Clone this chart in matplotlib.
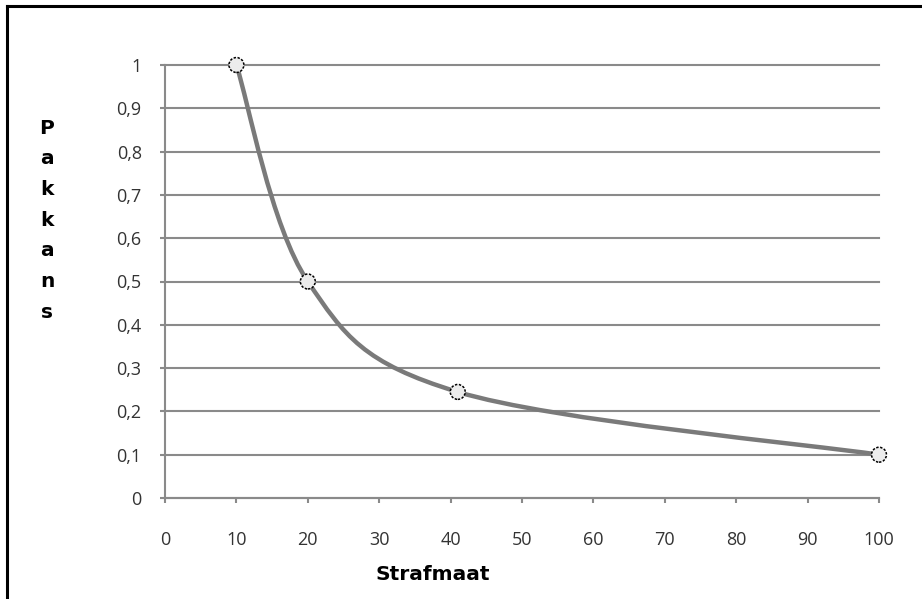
import matplotlib
matplotlib.use("Agg")
import matplotlib.pyplot as plt
from matplotlib.path import Path
from matplotlib.patches import PathPatch
from matplotlib.lines import Line2D

# Data
strafmaat = [10, 20, 41, 100]
pakkans = [1.0, 0.5, 0.245, 0.1]
x_ticks = [0, 10, 20, 30, 40, 50, 60, 70, 80, 90, 100]
y_ticks = [0, 0.1, 0.2, 0.3, 0.4, 0.5, 0.6, 0.7, 0.8, 0.9, 1.0]
y_tick_labels = ["0", "0,1", "0,2", "0,3", "0,4", "0,5", "0,6", "0,7", "0,8", "0,9", "1"]
x_label = "Strafmaat"
y_label = "Pakkans"

W, H = 922, 599
fig = plt.figure(figsize=(W / 100, H / 100), dpi=100)
ax = fig.add_axes([165 / W, 1 - 498 / H, (879 - 165) / W, (498 - 65) / H])

grid_c = "#8a8a8a"
ax.set_xlim(0, 100)
ax.set_ylim(0, 1)
for y in y_ticks:
    ax.axhline(y, color=grid_c, lw=1.5, zorder=1, clip_on=False)

for s in ["top", "right"]:
    ax.spines[s].set_visible(False)
for s in ["left", "bottom"]:
    ax.spines[s].set_color(grid_c)
    ax.spines[s].set_linewidth(1.5)

ax.set_xticks(x_ticks)
ax.set_xticklabels([str(v) for v in x_ticks])
ax.set_yticks(y_ticks)
ax.set_yticklabels(y_tick_labels)
ax.tick_params(axis="both", colors=grid_c, length=3.8, width=1.5, labelcolor="#333333",
               labelsize=13)
ax.tick_params(axis="x", pad=20)
ax.tick_params(axis="y", pad=13)
for lab in ax.get_xticklabels() + ax.get_yticklabels():
    lab.set_family("Open Sans")

# Smoothed line (Excel-style Catmull-Rom Bezier through the data points)
n = len(strafmaat)
pts = list(zip(strafmaat, pakkans))
verts = [pts[0]]
codes = [Path.MOVETO]
for i in range(n - 1):
    p0 = pts[i - 1] if i > 0 else pts[i]
    p1 = pts[i]
    p2 = pts[i + 1]
    p3 = pts[i + 2] if i + 2 < n else pts[i + 1]
    c1 = (p1[0] + (p2[0] - p0[0]) / 6, p1[1] + (p2[1] - p0[1]) / 6)
    c2 = (p2[0] - (p3[0] - p1[0]) / 6, p2[1] - (p3[1] - p1[1]) / 6)
    verts += [c1, c2, p2]
    codes += [Path.CURVE4] * 3
path = Path(verts, codes)
ax.add_patch(PathPatch(path, facecolor="none", edgecolor="#7a7a7a", lw=3.2,
                       capstyle="round", zorder=3, clip_on=False))

ax.scatter(strafmaat, pakkans, s=115, facecolors="#ececec", edgecolors="black",
           linewidths=1.1, linestyles=(0, (1.6, 1.0)), zorder=4, clip_on=False)

# Axis titles
fig.text(433 / W, 1 - 574 / H, x_label, ha="center", va="center",
         fontsize=14.5, fontweight="heavy", family="DejaVu Sans", color="black")
y0 = 128
step = 30.7
for i, ch in enumerate(y_label):
    fig.text(47 / W, 1 - (y0 + i * step) / H, ch.lower() if i else ch, ha="center",
             va="center", fontsize=14.5, fontweight="heavy", family="DejaVu Sans")

# Outer frame (top and left edges)
fig.add_artist(Line2D([7 / W, 1.0], [1 - 6 / H, 1 - 6 / H], color="black", lw=2.2,
                      transform=fig.transFigure))
fig.add_artist(Line2D([7 / W, 7 / W], [0, 1 - 6 / H], color="black", lw=2.2,
                      transform=fig.transFigure))

fig.savefig("out.png", dpi=100, facecolor="white")
